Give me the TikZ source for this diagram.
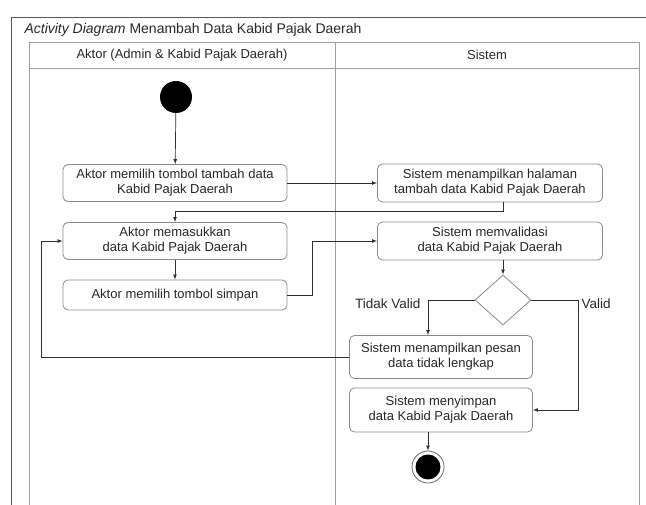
\documentclass[tikz,border=0pt]{standalone}
\usepackage{fontspec}
\setmainfont{Liberation Sans}
\usetikzlibrary{shapes.geometric,arrows,calc}
\definecolor{lanegray}{HTML}{A0A0A0}
\definecolor{boxgray}{HTML}{8A8A8A}
\definecolor{linegray}{HTML}{303030}
\tikzset{every scope/.style={>=latex},
  act/.style={draw=boxgray,line width=0.8pt,rounded corners=5pt,align=center,inner sep=0pt,
    minimum width=224pt,text=black!85,font=\fontsize{13}{15}\selectfont},
  lane/.style={draw=lanegray,line width=0.9pt},
  flow/.style={->,draw=linegray,line width=0.7pt},
  lbl/.style={text=black!85,font=\fontsize{13.5}{15}\selectfont}}

\begin{document}
\begin{tikzpicture}[x=1pt,y=-1pt,>=latex]
  \useasboundingbox (0,0) rectangle (646,505);
  \draw[draw=black!65,line width=0.9pt] (11,505) -- (11,17) -- (646,17);
  \node[anchor=west,text=black!85,font=\fontsize{14}{16}\selectfont] (judul) at (21,30) {\textit{Activity Diagram} Menambah Data Kabid Pajak Daerah};
  \draw[lane] (29,505) -- (29,42) -- (639,42) -- (639,505);
  \draw[lane] (29,68) -- (639,68);
  \draw[lane] (335,42) -- (335,505);
  \node[lbl,font=\fontsize{13}{15}\selectfont] (aktor) at (182,55) {Aktor (Admin \& Kabid Pajak Daerah)};
  \node[lbl,font=\fontsize{13}{15}\selectfont] (sistem) at (487,55) {Sistem};

  \node[circle,fill=black,inner sep=0pt,minimum size=32pt] (mulai) at (176,97) {};
  \node[act,minimum height=37pt] (pilih) at (175,183) {Aktor memilih tombol tambah data\\Kabid Pajak Daerah};
  \node[act,minimum height=37pt] (masuk) at (175,241) {Aktor memasukkan\\data Kabid Pajak Daerah};
  \node[act,minimum height=30pt] (simpan) at (175,295) {Aktor memilih tombol simpan};
  \node[act,minimum width=225pt,minimum height=38pt] (halaman) at (490,183) {Sistem menampilkan halaman\\tambah data Kabid Pajak Daerah};
  \node[act,minimum width=225pt,minimum height=38pt] (validasi) at (490,241) {Sistem memvalidasi\\data Kabid Pajak Daerah};
  \node[diamond,draw=boxgray,line width=0.8pt,inner sep=0pt,minimum width=56pt,minimum height=50pt] (cek) at (503,300) {};
  \node[act,minimum width=183pt,minimum height=43pt] (pesan) at (441,357) {Sistem menampilkan pesan\\data tidak lengkap};
  \node[act,minimum width=183pt,minimum height=44pt] (simpandata) at (441,410) {Sistem menyimpan\\data Kabid Pajak Daerah};
  \node[circle,draw=black!60,line width=0.8pt,inner sep=0pt,minimum size=32pt] (selesai) at (428,467) {};
  \node[circle,fill=black,inner sep=0pt,minimum size=25pt] (selesaiisi) at (selesai) {};

  \coordinate (balik) at (175,211);
  \coordinate (naik) at (312,241);
  \coordinate (kanan) at (578,300);
  \coordinate (kiri) at (41,357);
  \draw[flow] (mulai) -- (pilih);
  \draw[flow] (pilih) -- (halaman);
  \draw[flow] (halaman.south -| cek) |- (balik) -- (masuk);
  \draw[flow] (masuk) -- (simpan);
  \draw[flow] (simpan) -| (naik) -- (validasi);
  \draw[flow] (validasi.south -| cek) -- (cek);
  \draw[flow] (cek) -| (pesan.north -| selesai) node[lbl,pos=0.5,left,xshift=-4pt,yshift=-4pt]{Tidak Valid};
  \draw[flow] (cek) -- (kanan) |- (simpandata) node[lbl,pos=0,right,yshift=-4pt]{Valid};
  \draw[flow] (pesan) -- (kiri) |- (masuk);
  \draw[flow] (simpandata.south -| selesai) -- (selesai);
\end{tikzpicture}
\end{document}
